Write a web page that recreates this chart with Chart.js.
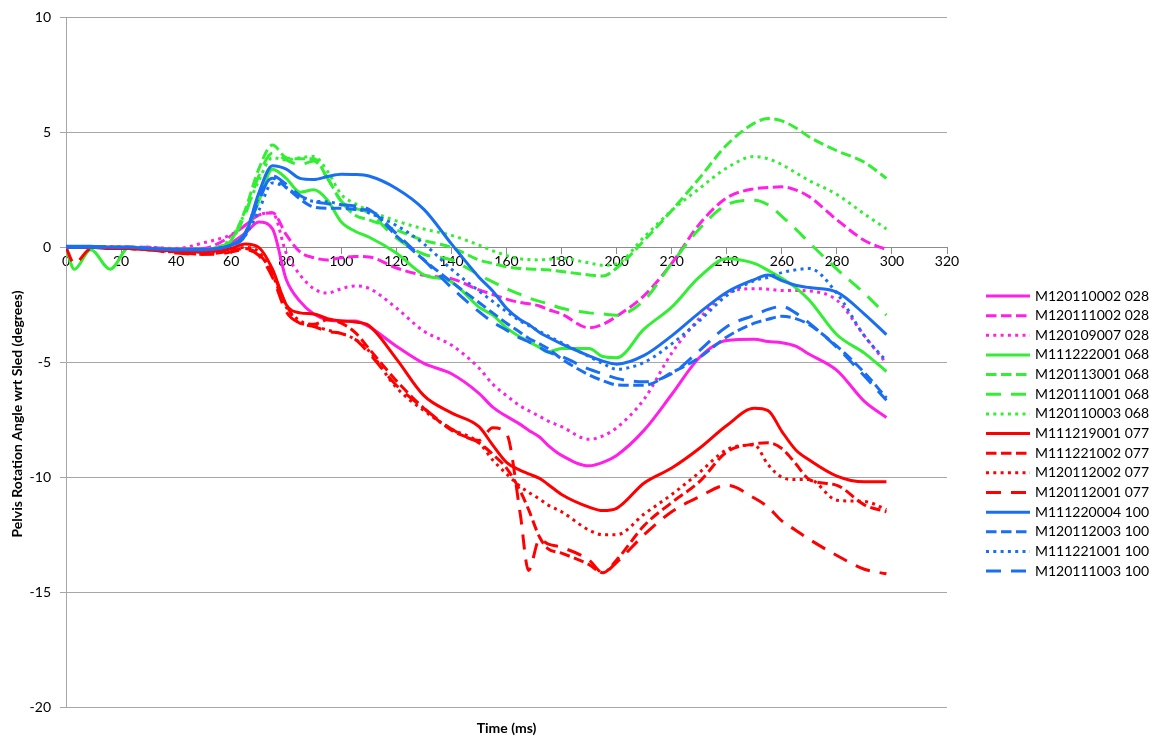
<!DOCTYPE html>
<html>
<head>
<meta charset="utf-8">
<title>Pelvis Rotation Angle wrt Sled</title>
<script src="https://cdn.jsdelivr.net/npm/chart.js@4.4.1/dist/chart.umd.min.js"></script>
<style>
  html, body { margin: 0; padding: 0; background: #ffffff; }
</style>
</head>
<body>
<canvas id="grafico" width="1163" height="742"></canvas>
<script>
// tiempos (ms) compartidos por todas las series
const T_MS = [0, 3, 9, 16, 23, 30, 40, 50, 55, 60, 65, 70, 75, 80, 85, 90, 95, 100, 105, 110,
  120, 130, 140, 150, 155, 160, 165, 168, 172, 175, 180,
  190, 195, 200, 210, 220, 230, 240, 250, 255, 260, 265, 270, 280, 290, 298];

const ETIQUETAS = [
  'M120110002 028', 'M120111002 028', 'M120109007 028',
  'M111222001 068', 'M120113001 068', 'M120111001 068', 'M120110003 068',
  'M111219001 077', 'M111221002 077', 'M120112002 077', 'M120112001 077',
  'M111220004 100', 'M120112003 100', 'M111221001 100', 'M120111003 100'
];

// grupo 028 (magenta)
const m120110002 = [0, 0, 0, 0, 0, -0.05, -0.1, -0.1, 0, 0.2, 0.6, 1.1, 0.8, -1.4, -2.35, -2.9, -3.15, -3.2, -3.2, -3.45,
  -4.3, -5.05, -5.5, -6.35, -6.95, -7.35, -7.7, -7.95, -8.25, -8.6, -9.05,
  -9.5, -9.35, -9.05, -7.95, -6.4, -4.8, -4.05, -4.0, -4.1, -4.15, -4.3, -4.65, -5.35, -6.7, -7.4];
const m120111002 = [0, 0, 0, 0, 0, 0, -0.1, -0.05, 0.15, 0.5, 0.95, 1.4, 1.5, 0.55, -0.2, -0.45, -0.55, -0.45, -0.4, -0.42,
  -0.9, -1.22, -1.36, -1.85, -2.05, -2.25, -2.4, -2.45, -2.55, -2.7, -2.9,
  -3.5, -3.35, -3.0, -2.1, -0.7, 1.0, 2.15, 2.55, 2.6, 2.63, 2.5, 2.2, 1.2, 0.3, -0.1];
const m120109007 = [0, 0, 0, 0, 0, 0, -0.05, 0.2, 0.35, 0.55, 0.95, 1.4, 1.5, -0.25, -1.2, -1.8, -1.99, -1.8, -1.68, -1.78,
  -2.64, -3.65, -4.25, -5.25, -5.95, -6.45, -6.9, -7.1, -7.35, -7.55, -7.8,
  -8.35, -8.2, -7.85, -6.6, -4.6, -3.1, -2.0, -1.8, -1.82, -1.88, -1.88, -1.9, -2.3, -3.85, -5.05];

// grupo 068 (verde)
const m111222001 = [0, -0.95, -0.1, -0.95, 0, -0.05, -0.1, -0.1, -0.05, 0.1, 0.6, 2.0, 3.4, 3.0, 2.4, 2.5, 2.05, 1.1, 0.7, 0.45,
  -0.25, -1.2, -1.5, -2.6, -2.95, -3.5, -3.9, -4.1, -4.35, -4.55, -4.4,
  -4.4, -4.75, -4.8, -3.55, -2.6, -1.3, -0.5, -0.7, -1.0, -1.35, -1.75, -2.3, -3.8, -4.6, -5.4];
const m120113001 = [0, 0, 0, 0, -0.05, -0.1, -0.1, -0.1, 0, 0.3, 1.6, 3.4, 4.45, 3.9, 3.85, 3.85, 3.0, 2.0, 1.4, 1.2,
  0.75, 0.3, 0.0, -0.55, -0.7, -0.85, -0.92, -0.94, -0.96, -0.98, -1.05,
  -1.2, -1.25, -0.9, 0.3, 1.6, 3.0, 4.45, 5.4, 5.6, 5.5, 5.2, 4.8, 4.2, 3.7, 3.0];
const m120111001 = [0, 0, 0, 0, -0.05, -0.1, -0.1, -0.1, 0, 0.3, 1.4, 3.1, 4.1, 3.8, 3.6, 3.75, 3.0, 2.0, 1.7, 1.5,
  0.4, -0.3, -0.55, -1.2, -1.5, -1.8, -2.05, -2.2, -2.35, -2.45, -2.65,
  -2.85, -2.9, -2.95, -2.3, -0.7, 0.8, 1.85, 2.05, 1.85, 1.35, 0.8, 0.2, -0.95, -2.0, -2.95];
const m120110003 = [0, 0, 0, 0, 0, -0.05, -0.1, -0.1, 0, 0.4, 1.5, 2.9, 3.9, 3.8, 3.9, 3.95, 3.3, 2.3, 1.9, 1.6,
  1.15, 0.8, 0.52, 0.1, -0.15, -0.35, -0.5, -0.53, -0.55, -0.52, -0.48,
  -0.68, -0.78, -0.72, 0.45, 1.6, 2.55, 3.45, 3.95, 3.85, 3.6, 3.25, 2.9, 2.3, 1.45, 0.8];

// grupo 077 (rojo)
const m111219001 = [0, 0, 0, -0.05, -0.05, -0.1, -0.15, -0.2, -0.15, -0.05, 0.15, 0.0, -0.95, -2.5, -2.85, -2.9, -3.1, -3.2, -3.25, -3.4,
  -4.85, -6.45, -7.2, -7.8, -8.6, -9.35, -9.7, -9.85, -10.05, -10.3, -10.75,
  -11.3, -11.45, -11.35, -10.25, -9.6, -8.75, -7.75, -7.0, -7.1, -8.0, -8.8, -9.25, -9.95, -10.2, -10.2];
const m111221002 = [0, 0, 0, 0, -0.05, -0.1, -0.2, -0.3, -0.25, -0.15, -0.05, -0.3, -1.1, -2.5, -3.3, -3.35, -3.15, -3.3, -3.7, -4.4,
  -5.8, -7.0, -7.95, -8.5, -9.0, -9.6, -10.6, -11.4, -12.6, -13.1, -13.3,
  -13.8, -14.15, -13.6, -12.1, -11.1, -10.2, -8.9, -8.55, -8.5, -8.75, -9.4, -10.1, -10.35, -11.2, -11.5];
const m120112002 = [0, 0, 0, 0, -0.05, -0.1, -0.2, -0.2, -0.2, -0.1, 0.0, -0.2, -1.2, -2.6, -3.2, -3.4, -3.6, -3.75, -4.0, -4.5,
  -6.1, -7.1, -7.9, -8.5, -9.25, -9.85, -10.4, -10.65, -10.95, -11.2, -11.5,
  -12.3, -12.5, -12.5, -11.6, -10.75, -9.8, -8.8, -8.6, -9.45, -10.0, -10.1, -10.1, -11.0, -11.05, -11.4];
const m120112001 = [0, -0.7, -0.05, 0, -0.05, -0.1, -0.25, -0.3, -0.3, -0.2, -0.1, -0.35, -1.3, -2.8, -3.3, -3.45, -3.65, -3.75, -4.0, -4.6,
  -6.0, -7.0, -7.9, -8.4, -7.85, -8.1, -11.6, -14.05, -12.7, -12.9, -13.05,
  -13.6, -14.15, -13.7, -12.5, -11.5, -10.85, -10.35, -10.9, -11.3, -11.9, -12.3, -12.7, -13.4, -14.0, -14.2];

// grupo 100 (azul)
const m111220004 = [0.05, 0.05, 0.05, 0, 0, -0.05, -0.1, -0.1, -0.05, 0.1, 0.5, 2.35, 3.55, 3.4, 3.0, 2.95, 3.08, 3.18, 3.17, 3.1,
  2.56, 1.65, 0.15, -1.3, -1.9, -2.65, -3.15, -3.35, -3.7, -3.9, -4.2,
  -4.72, -4.95, -5.08, -4.7, -3.85, -2.85, -1.95, -1.4, -1.2, -1.45, -1.65, -1.75, -1.95, -2.9, -3.8];
const m120112003 = [0, 0, 0, 0, 0, -0.05, -0.1, -0.1, -0.05, 0.1, 0.6, 2.2, 3.0, 2.6, 2.1, 1.75, 1.7, 1.7, 1.65, 1.6,
  0.5, -0.55, -1.5, -2.4, -2.85, -3.3, -3.7, -3.95, -4.2, -4.4, -4.85,
  -5.55, -5.8, -5.98, -6.0, -5.45, -4.8, -3.9, -3.3, -3.13, -3.0, -3.1, -3.37, -4.3, -5.45, -6.55];
const m111221001 = [0, 0, 0, 0, 0, -0.05, -0.1, -0.1, -0.05, 0.1, 0.5, 1.6, 2.8, 2.6, 2.2, 2.0, 1.98, 1.85, 1.7, 1.5,
  0.95, 0.15, -0.95, -1.9, -2.35, -2.8, -3.2, -3.4, -3.65, -3.85, -4.15,
  -4.75, -5.05, -5.3, -5.0, -4.2, -3.2, -2.1, -1.45, -1.3, -1.1, -0.98, -0.92, -2.0, -3.85, -4.95];
const m120111003 = [0, 0, 0, 0, 0, -0.05, -0.1, -0.1, -0.05, 0.1, 0.6, 2.0, 3.1, 2.75, 2.25, 2.0, 1.9, 1.85, 1.8, 1.65,
  0.6, -0.55, -1.75, -2.8, -3.25, -3.6, -3.95, -4.1, -4.35, -4.55, -4.75,
  -5.3, -5.5, -5.7, -5.85, -5.5, -4.5, -3.45, -2.95, -2.7, -2.57, -2.85, -3.3, -4.35, -5.6, -6.65];

const SERIES = [m120110002, m120111002, m120109007, m111222001, m120113001, m120111001, m120110003,
  m111219001, m111221002, m120112002, m120112001, m111220004, m120112003, m111221001, m120111003];

const COLOR_028 = '#ff1fe6';
const COLOR_068 = '#33ee33';
const COLOR_077 = '#ff0000';
const COLOR_100 = '#1a6ef2';
const COLORES = [COLOR_028, COLOR_028, COLOR_028, COLOR_068, COLOR_068, COLOR_068, COLOR_068,
  COLOR_077, COLOR_077, COLOR_077, COLOR_077, COLOR_100, COLOR_100, COLOR_100, COLOR_100];

const SOLIDA = [];
const GUIONES = [10.5, 4.5];
const PUNTOS = [3, 4.3];
const GUION_LARGO = [15, 10];
const TRAZOS = [SOLIDA, GUIONES, PUNTOS, SOLIDA, GUIONES, GUION_LARGO, PUNTOS,
  SOLIDA, GUIONES, PUNTOS, GUION_LARGO, SOLIDA, GUIONES, PUNTOS, GUION_LARGO];

const TITULO_X = 'Time (ms)';
const TITULO_Y = 'Pelvis Rotation Angle wrt Sled (degrees)';
const FUENTE = 'Lato, "Open Sans", sans-serif';

// leyenda y titulo vertical dibujados a mano para fijar su posicion
const leyendaPlugin = {
  id: 'leyenda',
  afterDraw(chart) {
    const ctx = chart.ctx;
    ctx.save();
    chart.data.datasets.forEach((ds, i) => {
      const y = 296 + i * 19.65;
      ctx.beginPath();
      ctx.strokeStyle = ds.borderColor;
      ctx.lineWidth = ds.borderWidth;
      ctx.lineCap = 'butt';
      ctx.setLineDash(ds.borderDash);
      ctx.moveTo(986, y);
      ctx.lineTo(1030, y);
      ctx.stroke();
      ctx.setLineDash([]);
      ctx.fillStyle = '#000';
      ctx.font = '14px ' + FUENTE;
      ctx.textBaseline = 'middle';
      ctx.textAlign = 'left';
      ctx.fillText(ds.label, 1035, y);
    });
    ctx.translate(17, 414);
    ctx.rotate(-Math.PI / 2);
    ctx.textAlign = 'center';
    ctx.textBaseline = 'middle';
    ctx.font = 'bold 14px ' + FUENTE;
    ctx.fillText(TITULO_Y, 0, 0);
    ctx.restore();
  }
};

const datasets = SERIES.map((valores, i) => ({
  label: ETIQUETAS[i],
  data: T_MS.map((t, j) => ({ x: t, y: valores[j] })),
  borderColor: COLORES[i],
  borderWidth: 3,
  borderDash: TRAZOS[i],
  borderCapStyle: 'butt',
  pointRadius: 0,
  cubicInterpolationMode: 'monotone',
  fill: false,
  order: SERIES.length - i
}));

new Chart(document.getElementById('grafico'), {
  type: 'line',
  data: { datasets: datasets },
  options: {
    responsive: false,
    animation: false,
    layout: { padding: { left: 0, right: 216, top: 15, bottom: 0 } },
    plugins: {
      legend: { display: false },
      tooltip: { enabled: false },
      title: {
        display: true,
        text: TITULO_X,
        position: 'bottom',
        fullSize: false,
        color: '#000',
        font: { family: FUENTE, size: 14, weight: 'bold' },
        padding: { top: 13, bottom: 5 }
      }
    },
    scales: {
      x: {
        type: 'linear',
        min: 0,
        max: 320,
        position: { y: 0 },
        ticks: { stepSize: 20, color: '#000', font: { family: FUENTE, size: 14 }, padding: 0, maxRotation: 0, autoSkip: false },
        grid: { drawOnChartArea: false, drawTicks: true, tickLength: 6, color: '#8c8c8c' },
        border: { color: '#8c8c8c' }
      },
      y: {
        min: -20,
        max: 10,
        ticks: { stepSize: 5, color: '#000', font: { family: FUENTE, size: 14 }, padding: 9 },
        grid: { color: '#a6a6a6', tickLength: 6 },
        border: { color: '#a6a6a6' },
        afterFit(scale) { scale.width = 66; }
      }
    }
  },
  plugins: [leyendaPlugin]
});
</script>
</body>
</html>
